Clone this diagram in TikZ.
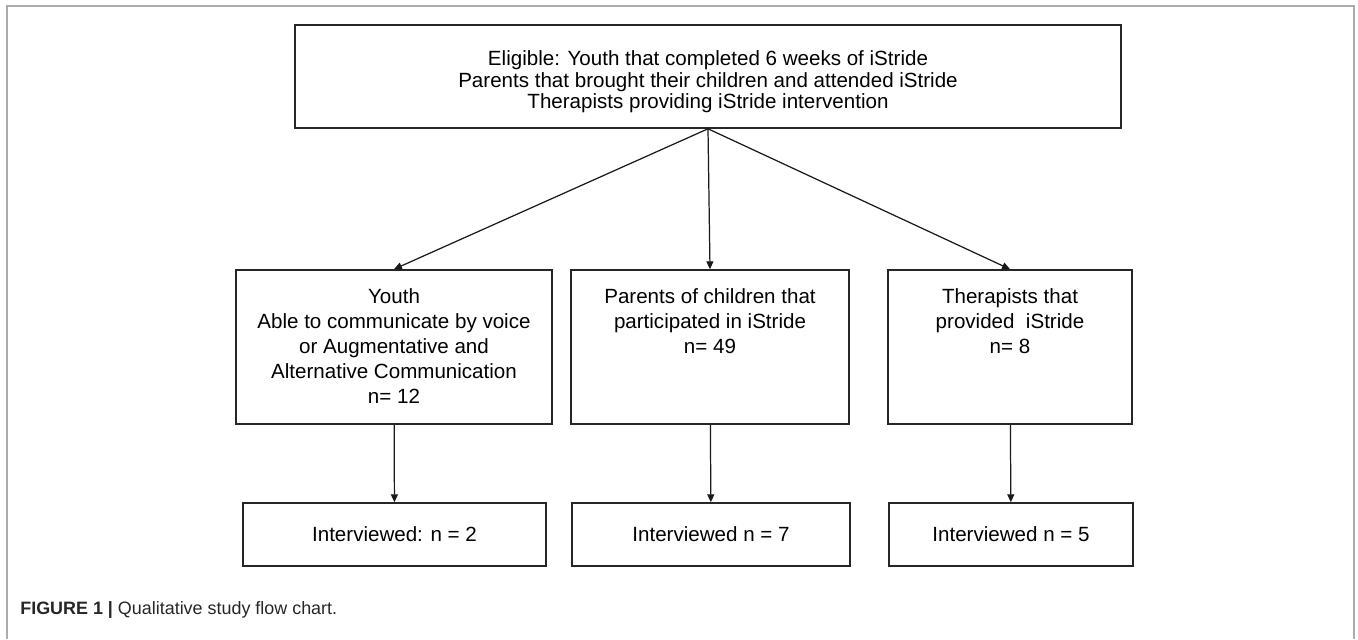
\documentclass[tikz,border=0pt]{standalone}
\usepackage{fontspec}
\setmainfont{Liberation Sans}
\usetikzlibrary{positioning,arrows.meta}

\begin{document}
\begin{tikzpicture}[
		box/.style={draw=black!85, line width=0.9pt, inner sep=0pt},
		txt/.style={align=center, inner sep=0pt, font=\fontsize{11.7}{14.2}\selectfont},
		arr/.style={-{Triangle[length=4.5pt,width=4pt]}, line width=0.7pt, draw=black!90}
		]
		\useasboundingbox (0,0) rectangle (27.16,12.78);
		% outer frame
		\draw[gray!65, line width=0.6pt] (0.14,0) -- (0.14,12.66) -- (27.08,12.66) -- (27.08,0);
		% eligible
		\node[box, minimum width=16.52cm, minimum height=2.06cm] (elig) at (14.16,11.25) {};
		\node[txt, font=\fontsize{11.7}{12.2}\selectfont] (eligtxt) at (14.16,11.14) {Eligible: Youth that completed 6 weeks of iStride\\Parents that brought their children and attended iStride\\Therapists providing iStride intervention};
		% groups
		\node[box, minimum width=6.32cm, minimum height=3.08cm] (youth) at (7.88,5.84) {};
		\node[box, minimum width=5.56cm, minimum height=3.08cm] (parents) at (14.2,5.84) {};
		\node[box, minimum width=4.88cm, minimum height=3.08cm] (ther) at (20.2,5.84) {};
		\node[txt, below=0.38cm of youth.north] (youthtxt) {Youth\\Able to communicate by voice\\or Augmentative and\\Alternative Communication\\n= 12};
		\node[txt, below=0.38cm of parents.north] (parentstxt) {Parents of children that\\participated in iStride\\n= 49};
		\node[txt, below=0.38cm of ther.north] (thertxt) {Therapists that\\provided\ \ iStride\\n= 8};
		% interviewed
		\node[box, txt, minimum width=6.06cm, minimum height=1.26cm] (inty) at (7.89,2.09) {Interviewed: n = 2};
		\node[box, txt, minimum width=5.56cm, minimum height=1.26cm] (intp) at (14.22,2.09) {Interviewed n = 7};
		\node[box, txt, minimum width=4.88cm, minimum height=1.26cm] (intt) at (20.22,2.09) {Interviewed n = 5};
		\draw[arr] (elig.south) to (youth.north);
		\draw[arr] (elig.south) to (parents.north);
		\draw[arr] (elig.south) to (ther.north);
		\draw[arr] (youth) to (inty);
		\draw[arr] (parents) to (intp);
		\draw[arr] (ther) to (intt);
		% caption
		\node[anchor=west, inner sep=0pt, font=\fontsize{10.2}{12}\selectfont, text=black!85] (cap) at (0.4,0.58) {\textbf{FIGURE 1 |} Qualitative study flow chart.};
	\end{tikzpicture}
\end{document}
